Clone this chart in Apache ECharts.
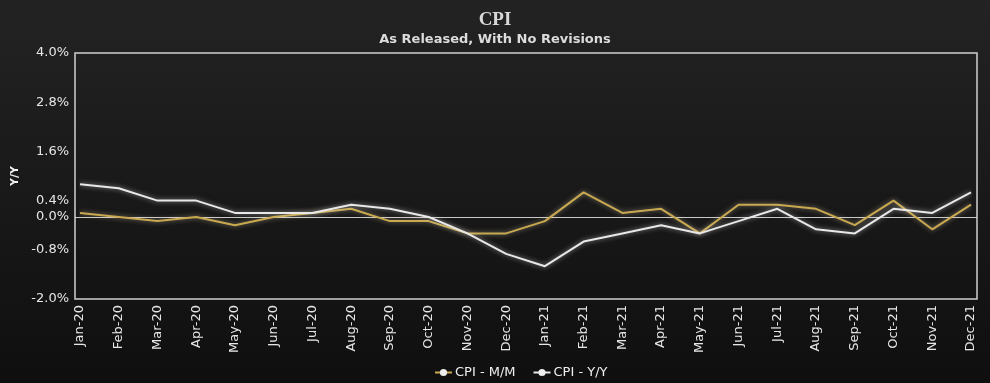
<!DOCTYPE html>
<html>
<head>
<meta charset="utf-8">
<script src="https://cdn.jsdelivr.net/npm/echarts@6/dist/echarts.min.js"></script>
<style>
html,body{margin:0;padding:0;background:#111;}
#c{width:990px;height:383px;}
</style>
</head>
<body>
<div id="c"></div>
<script>
var categories = ['Jan-20','Feb-20','Mar-20','Apr-20','May-20','Jun-20','Jul-20','Aug-20','Sep-20','Oct-20','Nov-20','Dec-20',
  'Jan-21','Feb-21','Mar-21','Apr-21','May-21','Jun-21','Jul-21','Aug-21','Sep-21','Oct-21','Nov-21','Dec-21'];
var cpiMoM = [0.1,0.0,-0.1,0.0,-0.2,0.0,0.1,0.2,-0.1,-0.1,-0.4,-0.4,
  -0.1,0.6,0.1,0.2,-0.4,0.3,0.3,0.2,-0.2,0.4,-0.3,0.3];
var cpiYoY = [0.8,0.7,0.4,0.4,0.1,0.1,0.1,0.3,0.2,0.0,-0.4,-0.9,
  -1.2,-0.6,-0.4,-0.2,-0.4,-0.1,0.2,-0.3,-0.4,0.2,0.1,0.6];
var yTickLabels = [-2.0,-0.8,0.0,0.4,1.6,2.8,4.0];

var chart = echarts.init(document.getElementById('c'), null, {renderer:'canvas'});
var splitColors = [];
for (var i = 0; i <= 15; i++) { splitColors.push(i === 5 ? 'rgba(220,220,220,0.9)' : 'rgba(0,0,0,0)'); }

chart.setOption({
  backgroundColor: new echarts.graphic.LinearGradient(0,0,0,1,[{offset:0,color:'#232323'},{offset:1,color:'#0f0f0f'}]),
  animation: false,
  title: [{
    text: 'CPI', left: 'center', top: 6,
    textStyle: {color:'#d8d8d8', fontFamily:'Liberation Serif', fontWeight:'bold', fontSize:19}
  },{
    text: 'As Released, With No Revisions', left: 'center', top: 28,
    textStyle: {color:'#dcdcdc', fontFamily:'DejaVu Sans', fontWeight:'bold', fontSize:13}
  }],
  legend: {
    top: 364, left: 432, padding: 2, itemWidth: 17, itemHeight: 9, itemGap: 17,
    textStyle: {color:'#f0f0f0', fontFamily:'DejaVu Sans', fontSize:13, padding:[0,0,0,-2]},
    data: [
      {name:'CPI - M/M', itemStyle:{color:'#eeeeee'}},
      {name:'CPI - Y/Y', itemStyle:{color:'#eeeeee'}}
    ]
  },
  grid: [
    {left:75, right:13, top:53, bottom:84, show:true, borderColor:'#cfcfcf', borderWidth:1.5, backgroundColor:'transparent'},
    {left:80, right:19, top:53, bottom:84}
  ],
  xAxis: [
    {type:'category', gridIndex:0, data:categories, show:false},
    {type:'category', gridIndex:1, data:categories, boundaryGap:false,
     axisLine:{show:false}, axisTick:{show:false}, splitLine:{show:false},
     axisLabel:{rotate:90, interval:0, color:'#e6e6e6', fontFamily:'DejaVu Sans', fontSize:13, margin:6}}
  ],
  yAxis: [
    {type:'value', gridIndex:0, min:-2, max:4, interval:0.4,
     name:'Y/Y', nameLocation:'middle', nameGap:54,
     nameTextStyle:{color:'#f0f0f0', fontFamily:'DejaVu Sans', fontWeight:'bold', fontSize:11},
     axisLine:{show:false}, axisTick:{show:false},
     axisLabel:{color:'#e6e6e6', fontFamily:'DejaVu Sans', fontSize:13, margin:6,
       formatter:function(v){
         var r = Math.round(v*10)/10;
         for (var k=0;k<yTickLabels.length;k++){ if (Math.abs(yTickLabels[k]-r)<1e-6) return r.toFixed(1)+'%'; }
         return '';
       }},
     splitLine:{show:true, lineStyle:{color:splitColors, width:1}}
    },
    {type:'value', gridIndex:1, min:-2, max:4, interval:0.4, show:false, splitLine:{show:false}}
  ],
  series: [
    {name:'CPI - M/M', type:'line', xAxisIndex:1, yAxisIndex:1, data:cpiMoM,
     symbol:'circle', symbolSize:8, showSymbol:false,
     lineStyle:{color:'#c9a94f', width:2, shadowColor:'rgba(255,240,200,0.5)', shadowBlur:5},
     itemStyle:{color:'#c9a94f'}},
    {name:'CPI - Y/Y', type:'line', xAxisIndex:1, yAxisIndex:1, data:cpiYoY,
     symbol:'circle', symbolSize:8, showSymbol:false,
     lineStyle:{color:'#e8e8e8', width:2, shadowColor:'rgba(255,255,255,0.55)', shadowBlur:5},
     itemStyle:{color:'#e8e8e8'}}
  ]
});
</script>
</body>
</html>
